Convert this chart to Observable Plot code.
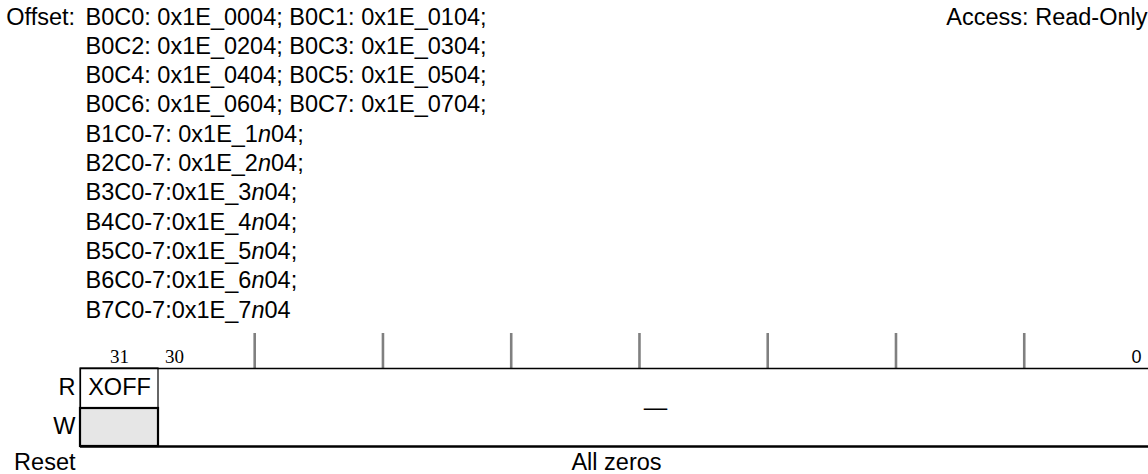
<!DOCTYPE html>
<html><head><meta charset="utf-8">
<script src="https://cdn.jsdelivr.net/npm/d3@7"></script>
<script src="https://cdn.jsdelivr.net/npm/@observablehq/plot@0.6"></script>
<style>
html,body{margin:0;padding:0;background:#fff;}
#chart svg{display:block;}
</style></head><body><div id="chart"></div>
<script>
// ---- content ----
const offsetLabel = "Offset:";
const offsetLines = [
  "B0C0: 0x1E_0004; B0C1: 0x1E_0104;",
  "B0C2: 0x1E_0204; B0C3: 0x1E_0304;",
  "B0C4: 0x1E_0404; B0C5: 0x1E_0504;",
  "B0C6: 0x1E_0604; B0C7: 0x1E_0704;",
  "B1C0-7: 0x1E_1n04;",
  "B2C0-7: 0x1E_2n04;",
  "B3C0-7:0x1E_3n04;",
  "B4C0-7:0x1E_4n04;",
  "B5C0-7:0x1E_5n04;",
  "B6C0-7:0x1E_6n04;",
  "B7C0-7:0x1E_7n04"
];
const accessText = "Access: Read-Only";
const fieldNames = ["XOFF", "\u2014"];
const fieldMsb = [31, 30];
const fieldLsb = [31, 0];
const fieldWritable = [false, false];
const fieldReserved = [false, true];
const bitLabels = [31, 30, 0];
const nibbleBounds = [28, 24, 20, 16, 12, 8, 4];
const rowLabels = ["R", "W", "Reset"];
const resetText = "All zeros";

// ---- layout ----
const W = 1148, H = 474;
const SANS = "Liberation Sans, Arial, Helvetica, sans-serif";
const SERIF = "Liberation Serif, Times New Roman, serif";
const FS = 23.5;
const lineBase0 = 24, lineStep = 29.3;
const rowTop = 368, rowMid = 408, rowBot = 446;
const tickTop = 333, bitLabelBase = 362;
const rowBase = [394, 433, 469];

const fields = fieldNames.map((name, i) => ({
  name, msb: fieldMsb[i], lsb: fieldLsb[i],
  writable: fieldWritable[i], reserved: fieldReserved[i]
}));
const named = fields.filter(f => !f.reserved);
const reserved = fields.filter(f => f.reserved);
const readOnly = named.filter(f => !f.writable);

const xOpts = {type: "linear", domain: [32, 31, 0], range: [80, 158, 1152]};
const xs = Plot.scale({x: xOpts});
const regMid = xs.invert((xs.apply(32) + xs.apply(0)) / 2);

const txt = {fill: "black", fontFamily: SANS, fontSize: FS, lineAnchor: "bottom"};

const plot = Plot.plot({
  width: W, height: H,
  margin: 0,
  x: {...xOpts, axis: null},
  y: {type: "linear", domain: [0, H], range: [0, H], axis: null},
  style: {background: "white", fontFamily: SANS},
  marks: [
    // header
    Plot.text([offsetLabel], {...txt, frameAnchor: "left", dx: 5.8, y: lineBase0, text: d => d, textAnchor: "start"}),
    Plot.text(offsetLines, {...txt, frameAnchor: "left", dx: 85, y: (d, i) => lineBase0 + i * lineStep, text: d => d, textAnchor: "start"}),
    Plot.text([accessText], {...txt, frameAnchor: "right", dx: -1, y: lineBase0, text: d => d, textAnchor: "end"}),
    // nibble ticks
    Plot.ruleX(nibbleBounds, {x: d => d, y1: tickTop, y2: rowTop, stroke: "#808080", strokeWidth: 2.6}),
    // bit numbers
    Plot.text(bitLabels.filter(b => b !== 0), {x: b => b + 0.5, y: bitLabelBase, text: b => String(b), fill: "black", fontFamily: SERIF, fontSize: 19, lineAnchor: "bottom", textAnchor: "middle"}),
    Plot.text(bitLabels.filter(b => b === 0), {x: b => b + 0.5, y: bitLabelBase, text: b => String(b), fill: "black", fontFamily: SANS, fontSize: 18, lineAnchor: "bottom", textAnchor: "middle"}),
    // frame lines
    Plot.ruleY([rowTop], {y: d => d, x1: 32, x2: 0, stroke: "black", strokeWidth: 1.3}),
    Plot.ruleX([32], {x: d => d, y1: rowTop, y2: rowBot, stroke: "black", strokeWidth: 1.2}),
    // read cells
    Plot.rect(named, {x1: f => f.msb + 1, x2: f => f.lsb, y1: rowTop, y2: rowMid, fill: "none", stroke: "black", strokeWidth: 1.2}),
    // write cells (read-only -> shaded)
    Plot.rect(readOnly, {x1: f => f.msb + 1, x2: f => f.lsb, y1: rowMid, y2: rowBot, fill: "#e6e6e6", stroke: "black", strokeWidth: 2.2}),
    Plot.ruleY([rowBot], {y: d => d, x1: 32, x2: 0, stroke: "black", strokeWidth: 2.6}),
    // field names
    Plot.text(named, {...txt, x: f => (f.msb + 1 + f.lsb) / 2, y: rowBase[0], text: f => f.name, textAnchor: "middle"}),
    Plot.text(reserved, {...txt, x: f => (f.msb + 1 + f.lsb) / 2, y: (rowMid + 6), text: f => f.name, textAnchor: "middle"}),
    // row labels
    Plot.text(rowLabels, {...txt, x: 32, dx: -5, y: (d, i) => rowBase[i], text: d => d, textAnchor: "end"}),
    Plot.text([resetText], {...txt, x: regMid, y: rowBase[2], text: d => d, textAnchor: "middle"})
  ]
});

// italic "n" in offset formulas
d3.select(plot).selectAll("text").each(function () {
  const el = d3.select(this);
  const s = this.textContent;
  const m = s.match(/^(B\dC0-7:\s?0x1E_\d)n(04;?)$/);
  if (m && this.childElementCount === 0) {
    el.text(null);
    el.append("tspan").text(m[1]);
    el.append("tspan").attr("font-style", "italic").text("n");
    el.append("tspan").text(m[2]);
  }
});

document.getElementById("chart").appendChild(plot);
</script>
</body></html>
